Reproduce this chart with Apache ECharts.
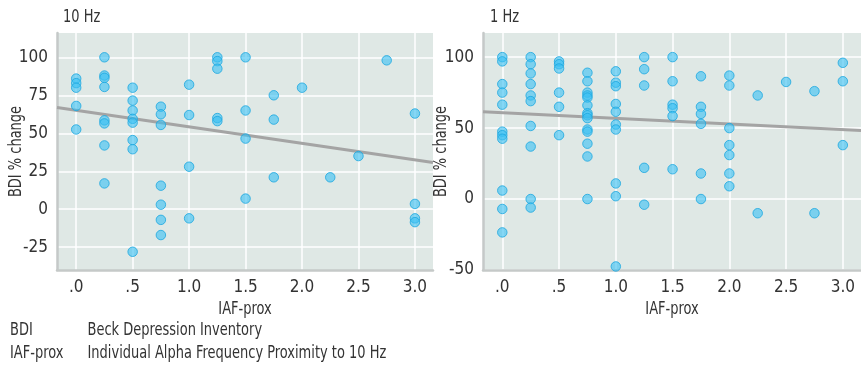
<!DOCTYPE html>
<html>
<head>
<meta charset="utf-8">
<script src="https://cdn.jsdelivr.net/npm/echarts@6/dist/echarts.min.js"></script>
<style>
  html, body { margin: 0; padding: 0; background: #ffffff; }
  #chart { width: 861px; height: 365px; }
</style>
</head>
<body>
<div id="chart"></div>
<script>
// ---------- Data ----------
// 10 Hz panel: IAF-prox (x) and BDI % change (y)
var hz10X = [
  0, 0, 0, 0, 0,
  0.25, 0.25, 0.25, 0.25, 0.25, 0.25, 0.25, 0.25,
  0.5, 0.5, 0.5, 0.5, 0.5, 0.5, 0.5, 0.5,
  0.75, 0.75, 0.75, 0.75, 0.75, 0.75, 0.75,
  1.0, 1.0, 1.0, 1.0,
  1.25, 1.25, 1.25, 1.25, 1.25,
  1.5, 1.5, 1.5, 1.5,
  1.75, 1.75, 1.75,
  2.0,
  2.25,
  2.5,
  2.75,
  3.0, 3.0, 3.0, 3.0
];
var hz10Y = [
  86, 83, 80, 68, 52.5,
  100, 88, 86.5, 80.5, 58.5, 56.5, 42, 17,
  80, 71.5, 65, 59.5, 57, 45.5, 39.5, -28,
  67.5, 62.5, 55.5, 15.5, 3, -7, -17,
  82, 62, 28, -6,
  100, 97.5, 92.5, 60, 58,
  100, 65, 46.5, 7,
  75, 59, 21,
  80,
  21,
  35,
  98,
  63, 3.5, -6, -8.5
];
// 10 Hz fit line end points
var hz10FitX = [-0.17, 3.16];
var hz10FitY = [67, 30.7];

// 1 Hz panel
var hz1X = [
  0, 0, 0, 0, 0, 0, 0, 0, 0, 0, 0,
  0.25, 0.25, 0.25, 0.25, 0.25, 0.25, 0.25, 0.25, 0.25, 0.25,
  0.5, 0.5, 0.5, 0.5, 0.5, 0.5,
  0.75, 0.75, 0.75, 0.75, 0.75, 0.75, 0.75, 0.75, 0.75, 0.75, 0.75, 0.75, 0.75, 0.75,
  1.0, 1.0, 1.0, 1.0, 1.0, 1.0, 1.0, 1.0, 1.0, 1.0,
  1.25, 1.25, 1.25, 1.25, 1.25,
  1.5, 1.5, 1.5, 1.5, 1.5, 1.5,
  1.75, 1.75, 1.75, 1.75, 1.75, 1.75,
  2.0, 2.0, 2.0, 2.0, 2.0, 2.0, 2.0,
  2.25, 2.25,
  2.5,
  2.75, 2.75,
  3.0, 3.0, 3.0
];
var hz1Y = [
  100, 97, 81, 75, 66.5, 47.5, 45, 42.5, 6, -7, -23.5,
  100, 95, 88.5, 81, 73, 69, 51.5, 37, 0, -6,
  97, 95, 92, 75, 65, 45,
  89, 83, 75, 73, 71.5, 66, 60.5, 59, 57, 49, 47.5, 39, 30, 0,
  90, 82, 79.5, 67, 61.5, 52.5, 49, 11, 2, -47.5,
  100, 91.5, 80, 22, -4,
  100, 83, 66.5, 64, 58.5, 21,
  86.5, 65, 60, 53, 18, 0,
  87, 80, 50, 38, 31, 18, 9,
  73, -10,
  82.5,
  76, -10,
  96, 83, 38
];
var hz1FitX = [-0.17, 3.16];
var hz1FitY = [61.5, 48.3];

// Tick values and labels
var xTickValues = [0, 0.5, 1.0, 1.5, 2.0, 2.5, 3.0];
var xTickLabels = ['.0', '.5', '1.0', '1.5', '2.0', '2.5', '3.0'];
var hz10YTicks = [-25, 0, 25, 50, 75, 100];
var hz1YTicks = [-50, 0, 50, 100];

// Texts
var panelTitles = ['10 Hz', '1 Hz'];
var xAxisName = 'IAF-prox';
var yAxisName = 'BDI % change';
var glossTerms = ['BDI', 'IAF-prox'];
var glossDefs = ['Beck Depression Inventory', 'Individual Alpha Frequency Proximity to 10 Hz'];

// ---------- Chart ----------
function pairs(xs, ys) {
  var out = [];
  for (var i = 0; i < xs.length; i++) out.push([xs[i], ys[i]]);
  return out;
}

var FONT = "'Liberation Sans Narrow', 'DejaVu Sans Condensed', sans-serif";
var TXT = '#333333';
var BG = '#dfe8e5';
var AXIS_LINE = '#c5c9c8';
var DOT_FILL = 'rgba(56, 192, 243, 0.75)';
var DOT_BORDER = '#1ba8e0';
var FIT = '#a4a4a4';
var SQUEEZE = 0.85;

function xAxisFor(gridIndex) {
  return {
    type: 'value', gridIndex: gridIndex,
    min: -0.17, max: 3.16,
    axisLine: { show: true, onZero: false, lineStyle: { color: AXIS_LINE, width: 2.5 } },
    axisTick: { show: false, customValues: xTickValues },
    axisLabel: {
      customValues: xTickValues,
      fontFamily: FONT, fontSize: 17, color: TXT, margin: 9,
      formatter: function (v) {
        var i = xTickValues.indexOf(v);
        return i >= 0 ? xTickLabels[i] : '';
      }
    },
    splitLine: { show: true, lineStyle: { color: '#ffffff', width: 1.5 } }
  };
}

function yAxisFor(gridIndex, min, max, ticks) {
  return {
    type: 'value', gridIndex: gridIndex,
    min: min, max: max,
    axisLine: { show: true, onZero: false, lineStyle: { color: AXIS_LINE, width: 2.5 } },
    axisTick: { show: false, customValues: ticks },
    axisLabel: { customValues: ticks, fontFamily: FONT, fontSize: 17, color: TXT, margin: 9 },
    splitLine: { show: true, lineStyle: { color: '#ffffff', width: 1.5 } }
  };
}

function scatterSeries(idx, xs, ys) {
  return {
    type: 'scatter', xAxisIndex: idx, yAxisIndex: idx,
    data: pairs(xs, ys),
    symbol: 'circle', symbolSize: 9.5,
    itemStyle: { color: DOT_FILL, borderColor: DOT_BORDER, borderWidth: 1 },
    z: 3, silent: true
  };
}

function fitSeries(idx, xs, ys) {
  return {
    type: 'line', xAxisIndex: idx, yAxisIndex: idx,
    data: pairs(xs, ys),
    symbol: 'none', lineStyle: { color: FIT, width: 3 },
    z: 2, silent: true, animation: false
  };
}

// condensed-looking text (squeezed along its reading direction)
function label(text, x, y, align, rotation) {
  return {
    type: 'text', x: x, y: y, rotation: rotation || 0, scaleX: SQUEEZE, scaleY: 1,
    silent: true,
    style: {
      text: text, fontSize: 17, fontFamily: FONT, fill: TXT,
      align: align, verticalAlign: 'middle',
      textAlign: align, textVerticalAlign: 'middle'
    }
  };
}

var graphics = [
  label(panelTitles[0], 63, 18, 'left'),
  label(panelTitles[1], 490, 18, 'left'),
  label(xAxisName, 245, 309.5, 'center'),
  label(xAxisName, 672, 309.5, 'center'),
  label(yAxisName, 16.5, 151.5, 'center', Math.PI / 2),
  label(yAxisName, 441.5, 151.5, 'center', Math.PI / 2)
];
for (var g = 0; g < glossTerms.length; g++) {
  graphics.push(label(glossTerms[g], 10, 331 + g * 23, 'left'));
  graphics.push(label(glossDefs[g], 87.5, 331 + g * 23, 'left'));
}

var chart = echarts.init(document.getElementById('chart'), null, { renderer: 'canvas' });
chart.setOption({
  animation: false,
  backgroundColor: '#ffffff',
  textStyle: { fontFamily: FONT },
  grid: [
    { left: 57, right: 428, top: 33, bottom: 95, show: true, backgroundColor: BG, borderWidth: 0 },
    { left: 483, right: 0, top: 33, bottom: 95, show: true, backgroundColor: BG, borderWidth: 0 }
  ],
  xAxis: [xAxisFor(0), xAxisFor(1)],
  yAxis: [yAxisFor(0, -40, 116, hz10YTicks), yAxisFor(1, -50, 117, hz1YTicks)],
  series: [
    fitSeries(0, hz10FitX, hz10FitY),
    scatterSeries(0, hz10X, hz10Y),
    fitSeries(1, hz1FitX, hz1FitY),
    scatterSeries(1, hz1X, hz1Y)
  ],
  graphic: graphics
});
</script>
</body>
</html>
